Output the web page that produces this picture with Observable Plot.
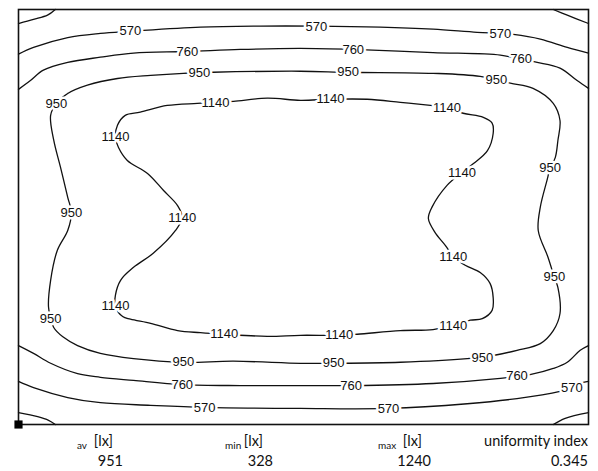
<!DOCTYPE html>
<html>
<head>
<meta charset="utf-8">
<script src="https://cdn.jsdelivr.net/npm/d3@7"></script>
<script src="https://cdn.jsdelivr.net/npm/@observablehq/plot@0.6"></script>
<style>
  html, body { margin: 0; padding: 0; background: #fff; }
  #wrap { position: relative; width: 598px; height: 471px; overflow: hidden; font-family: Lato, "Open Sans", sans-serif; color: #111; }
  #chart { position: absolute; left: 0; top: 0; }
  .ft { position: absolute; white-space: nowrap; font-size: 14.5px; line-height: 1; }
  .sub { position: absolute; white-space: nowrap; font-size: 10px; line-height: 1; }
</style>
</head>
<body>
<div id="wrap">
  <div id="chart"></div>
  <div id="footer"></div>
</div>
<script>
// Room size (m) and isolux values (lx)
const roomX = [0, 11];
const roomY = [0, 8];

// Corner isolines (unlabelled)
const cornerTLx = [0, 0.29, 0.56, 0.71];
const cornerTLy = [7.73, 7.81, 7.89, 8.0];
const cornerTRx = [10.32, 10.59, 11.0];
const cornerTRy = [8.0, 7.89, 7.73];
const cornerBLx = [0, 0.37, 0.58, 0.71];
const cornerBLy = [0.23, 0.15, 0.08, 0];
const cornerBRx = [10.32, 10.55, 11.0];
const cornerBRy = [0, 0.12, 0.23];

// 570 lx, top
const top570x = [0, 0.29, 0.95, 1.58, 2.16, 3.51, 4.67, 5.75, 6.98, 8.00, 8.85, 9.30, 9.55, 10.07, 10.59, 11.0];
const top570y = [7.14, 7.27, 7.46, 7.54, 7.58, 7.66, 7.68, 7.68, 7.66, 7.62, 7.56, 7.54, 7.52, 7.43, 7.27, 7.16];
// 760 lx, top
const top760x = [0, 0.23, 0.48, 0.95, 1.58, 2.22, 3.26, 4.28, 5.44, 6.46, 8.00, 9.30, 9.70, 10.01, 10.45, 10.78, 11.0];
const top760y = [6.46, 6.63, 6.83, 6.98, 7.08, 7.16, 7.19, 7.23, 7.25, 7.23, 7.17, 7.12, 7.04, 6.98, 6.87, 6.63, 6.48];
// 760 lx, bottom
const bot760x = [0, 0.29, 0.62, 1.14, 1.58, 2.22, 3.16, 4.28, 5.44, 6.42, 8.00, 9.30, 9.62, 9.87, 10.32, 10.59, 10.84, 11.0];
const bot760y = [1.52, 1.37, 1.18, 0.98, 0.91, 0.85, 0.77, 0.75, 0.75, 0.75, 0.79, 0.89, 0.93, 0.96, 1.08, 1.20, 1.43, 1.52];
// 570 lx, bottom
const bot570x = [0, 0.29, 0.95, 1.58, 2.55, 3.59, 5.44, 7.14, 8.66, 9.62, 10.45, 10.68, 10.90, 11.0];
const bot570y = [0.83, 0.71, 0.52, 0.42, 0.37, 0.33, 0.31, 0.31, 0.40, 0.50, 0.64, 0.71, 0.81, 0.83];

// 950 lx, closed loop
const loop950x = [0.73, 0.95, 1.33, 1.91, 2.55, 3.18, 3.76, 5.44, 6.36, 8.00, 8.91, 9.49, 9.93, 10.32, 10.45, 10.41, 10.36, 10.26, 10.20, 10.07, 10.03, 10.22, 10.34, 10.41, 10.45, 10.32, 10.07, 9.62, 9.16, 8.66, 7.37, 6.08, 5.44, 4.15, 3.18, 2.22, 1.58, 1.14, 0.87, 0.68, 0.58, 0.62, 0.75, 0.95, 1.02, 0.95, 0.81, 0.68, 0.62];
const loop950y = [6.19, 6.38, 6.54, 6.67, 6.73, 6.77, 6.79, 6.81, 6.79, 6.77, 6.71, 6.58, 6.48, 6.19, 5.86, 5.48, 5.15, 4.94, 4.71, 4.19, 3.74, 3.22, 2.84, 2.64, 2.14, 1.81, 1.56, 1.43, 1.33, 1.27, 1.20, 1.18, 1.18, 1.22, 1.20, 1.27, 1.37, 1.52, 1.68, 1.87, 2.26, 2.78, 3.36, 3.74, 4.09, 4.38, 4.96, 5.48, 5.96];

// 1140 lx, closed loop
const loop1140x = [3.80, 3.45, 2.87, 2.35, 2.06, 1.91, 1.87, 1.93, 2.10, 2.49, 2.80, 3.07, 3.16, 3.03, 2.60, 2.22, 1.97, 1.87, 1.87, 2.01, 2.16, 2.55, 3.07, 3.51, 3.97, 4.80, 5.44, 6.19, 6.54, 7.37, 8.00, 8.39, 8.72, 8.95, 9.14, 9.16, 9.10, 8.91, 8.62, 8.39, 8.24, 8.04, 7.91, 7.98, 8.27, 8.56, 8.78, 9.05, 9.16, 9.14, 8.97, 8.58, 8.27, 7.95, 7.37, 6.73, 6.02, 5.44, 4.80, 4.15];
const loop1140y = [6.21, 6.19, 6.15, 6.02, 5.96, 5.77, 5.54, 5.34, 5.09, 4.84, 4.51, 4.22, 3.99, 3.74, 3.30, 3.03, 2.78, 2.49, 2.28, 2.08, 2.03, 1.95, 1.81, 1.77, 1.74, 1.70, 1.72, 1.72, 1.74, 1.81, 1.83, 1.91, 2.01, 2.04, 2.20, 2.45, 2.72, 2.93, 3.07, 3.24, 3.45, 3.70, 3.97, 4.19, 4.61, 4.86, 5.03, 5.28, 5.61, 5.81, 5.92, 6.00, 6.11, 6.15, 6.21, 6.27, 6.27, 6.25, 6.29, 6.23];

// Isoline labels
const labelValue = [570, 570, 570, 760, 760, 760,
  950, 950, 950, 950, 950, 950, 950, 950, 950, 950, 950,
  1140, 1140, 1140, 1140, 1140, 1140, 1140, 1140, 1140, 1140, 1140,
  760, 760, 760, 570, 570, 570];
const labelX = [2.16, 5.75, 9.30, 3.26, 6.46, 9.70,
  3.49, 6.36, 9.22, 0.73, 1.02, 0.62, 3.18, 6.08, 8.95, 10.26, 10.34,
  3.80, 1.87, 3.16, 1.87, 3.97, 6.19, 8.39, 8.39, 8.56, 8.27, 6.02,
  3.16, 6.42, 9.62, 3.59, 7.14, 10.68];
const labelY = [7.58, 7.66, 7.54, 7.19, 7.23, 7.04,
  6.77, 6.79, 6.65, 6.19, 4.09, 2.04, 1.20, 1.18, 1.29, 4.94, 2.84,
  6.21, 5.54, 3.99, 2.28, 1.74, 1.72, 1.91, 3.24, 4.86, 6.11, 6.27,
  0.77, 0.75, 0.93, 0.33, 0.31, 0.71];

// Summary table
const statNames = ["av", "min", "max", ""];
const statUnits = ["[lx]", "[lx]", "[lx]", "uniformity index"];
const statValues = ["951", "328", "1240", "0.345"];

// ---- build data tables ----
const openLines = [
  ["tl", cornerTLx, cornerTLy], ["tr", cornerTRx, cornerTRy],
  ["bl", cornerBLx, cornerBLy], ["br", cornerBRx, cornerBRy],
  ["t570", top570x, top570y], ["t760", top760x, top760y],
  ["b760", bot760x, bot760y], ["b570", bot570x, bot570y]
].flatMap(([id, xs, ys]) => xs.map((x, i) => ({id, x, y: ys[i]})));
const loops = [
  ["l950", loop950x, loop950y], ["l1140", loop1140x, loop1140y]
];
const labels = labelValue.map((v, i) => ({v: String(v), x: labelX[i], y: labelY[i]}));

const loopMarks = loops.map(([id, xs, ys]) =>
  Plot.line(xs.map((x, i) => ({x, y: ys[i]})), {x: "x", y: "y", curve: "catmull-rom-closed", stroke: "#111", strokeWidth: 1.3}));

const chart = Plot.plot({
  width: 598, height: 430,
  marginLeft: 18, marginRight: 10, marginTop: 9, marginBottom: 6,
  x: {domain: roomX, axis: null},
  y: {domain: roomY, axis: null},
  marks: [
    Plot.line(openLines, {x: "x", y: "y", z: "id", curve: "catmull-rom", stroke: "#111", strokeWidth: 1.3}),
    ...loopMarks,
    Plot.text(labels, {x: "x", y: "y", text: "v", fontSize: 13, fontFamily: "Liberation Sans, Arial, sans-serif", fill: "#111", stroke: "white", strokeWidth: 5}),
    Plot.frame({stroke: "#111", strokeWidth: 1.6}),
    Plot.dot([{x: roomX[0], y: roomY[0]}], {x: "x", y: "y", symbol: "square", r: 4.6, fill: "black"})
  ]
});
document.getElementById("chart").appendChild(chart);

// footer layout (right edges of unit labels / values, left of subscripts)
const footer = document.getElementById("footer");
const subLeft = [77, 225, 378, null];
const unitRight = [113, 263, 422, 588];
const valueRight = [123, 273, 431, 588];
statNames.forEach((n, i) => {
  if (n) {
    const s = document.createElement("div");
    s.className = "sub"; s.textContent = n;
    s.style.left = subLeft[i] + "px"; s.style.top = "440px";
    footer.appendChild(s);
  }
  const u = document.createElement("div");
  u.className = "ft"; u.textContent = statUnits[i];
  u.style.right = (598 - unitRight[i]) + "px"; u.style.top = "434px";
  footer.appendChild(u);
  const v = document.createElement("div");
  v.className = "ft"; v.textContent = statValues[i];
  v.style.right = (598 - valueRight[i]) + "px"; v.style.top = "454px";
  footer.appendChild(v);
});
</script>
</body>
</html>
